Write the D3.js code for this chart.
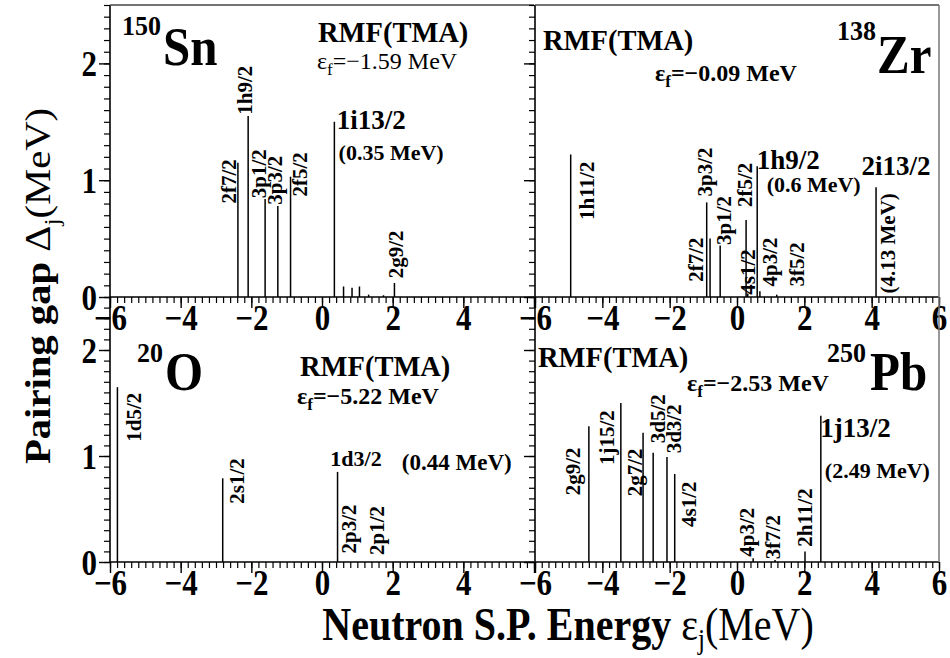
<!DOCTYPE html>
<html>
<head>
<meta charset="utf-8">
<script src="https://cdn.jsdelivr.net/npm/d3@7"></script>
<style>
  body { margin: 0; background: #fff; }
  svg text { font-family: "Liberation Serif", Tinos, "Times New Roman", Times, serif; fill: #000; }
</style>
</head>
<body>
<svg id="chart" width="950" height="658"></svg>
<script>
// ---- Neutron single-particle levels near the Fermi surface (RMF, TMA force) ----
// energies are εj in MeV, gaps are Δj in MeV
const sn150Names  = ["2f7/2", "1h9/2", "3p1/2", "3p3/2", "2f5/2", "1i13/2", "", "", "", "", "", "2g9/2"];
const sn150Energy = [-2.38, -2.09, -1.61, -1.25, -0.89, 0.35, 0.61, 0.85, 1.06, 1.32, 1.74, 2.05];
const sn150Gap    = [1.15, 1.55, 0.84, 0.78, 1.03, 1.50, 0.09, 0.08, 0.09, 0.02, 0.015, 0.12];
const sn150Fermi  = -1.59;

const zr138Names  = ["1h11/2", "3p3/2", "2f7/2", "3p1/2", "2f5/2", "4s1/2", "1h9/2", "4p3/2", "3f5/2", "2i13/2"];
const zr138Energy = [-4.94, -0.90, -0.80, -0.50, 0.27, 0.32, 0.60, 0.68, 1.18, 4.13];
const zr138Gap    = [1.22, 0.81, 0.50, 0.44, 0.66, 0.03, 1.12, 0.05, 0.02, 0.94];
const zr138Fermi  = -0.09;

const o20Names  = ["1d5/2", "2s1/2", "1d3/2", "2p3/2", "2p1/2"];
const o20Energy = [-5.79, -2.81, 0.44, 0.75, 1.45];
const o20Gap    = [1.65, 0.79, 0.85, 0.0, 0.0];
const o20Fermi  = -5.22;

const pb250Names  = ["2g9/2", "1j15/2", "2g7/2", "3d5/2", "3d3/2", "4s1/2", "4p3/2", "3f7/2", "2h11/2", "1j13/2"];
const pb250Energy = [-4.40, -3.45, -2.79, -2.49, -2.08, -1.85, 0.48, 1.13, 2.02, 2.49];
const pb250Gap    = [1.28, 1.50, 1.22, 1.03, 0.99, 0.83, 0.035, 0.02, 0.10, 1.38];
const pb250Fermi  = -2.53;

// axis ticks
const xTickLabels = [-6, -4, -2, 0, 2, 4, 6];
const yTickLabels = [0, 1, 2];
const xDomain = [-6, 6];
const yDomain = [0, 2.5];

// tall-glyph factor used for numbers, titles and nucleus names
const TALL = 1.15;

// ---- panel geometry and annotation layout ----
// level-name spots: [name, energy at label centre, gap where the vertical text starts]
const panels = [
  {
    mass: "150", symbol: "Sn", names: sn150Names, energy: sn150Energy, gap: sn150Gap, fermi: sn150Fermi,
    left: 110, right: 534, top: 5, bottom: 297, col: 0, row: 0, fermiBold: false,
    isoSup: [12, 30], isoMain: [53, 60], rmf: [208, 37], ef: [207, 64],
    vLabels: [["2f7/2", -2.64, 0.80], ["1h9/2", -2.17, 1.56], ["3p1/2", -1.77, 0.845],
              ["3p3/2", -1.32, 0.79], ["2f5/2", -0.61, 0.86], ["2g9/2", 2.10, 0.16]],
    hLabels: [["1i13/2", 0.42, 1.44, 27], ["(0.35 MeV)", 0.47, 1.17, 22]]
  },
  {
    mass: "138", symbol: "Zr", names: zr138Names, energy: zr138Energy, gap: zr138Gap, fermi: zr138Fermi,
    left: 535, right: 939, top: 5, bottom: 297, col: 1, row: 0, fermiBold: true,
    isoSup: [302, 35], isoMain: [342, 68], rmf: [8, 45], ef: [120, 76],
    vLabels: [["1h11/2", -4.46, 0.66], ["3p3/2", -0.95, 0.86], ["2f7/2", -1.23, 0.13],
              ["3p1/2", -0.38, 0.445], ["2f5/2", 0.24, 0.77], ["4s1/2", 0.34, 0.02],
              ["4p3/2", 0.98, 0.09], ["3f5/2", 1.77, 0.09], ["(4.13 MeV)", 4.49, 0.03]],
    hLabels: [["1h9/2", 0.585, 1.10, 27], ["(0.6 MeV)", 0.88, 0.90, 22], ["2i13/2", 3.70, 1.045, 27]]
  },
  {
    mass: "20", symbol: "O", names: o20Names, energy: o20Energy, gap: o20Gap, fermi: o20Fermi,
    left: 110, right: 534, top: 297, bottom: 562, col: 0, row: 1, fermiBold: true,
    isoSup: [27, 65], isoMain: [55, 93], rmf: [190, 79], ef: [187, 107],
    vLabels: [["1d5/2", -5.33, 1.135], ["2s1/2", -2.41, 0.55], ["2p3/2", 0.75, 0.08], ["2p1/2", 1.56, 0.066]],
    hLabels: [["1d3/2", 0.235, 0.91, 22], ["(0.44 MeV)", 2.26, 0.87, 23]]
  },
  {
    mass: "250", symbol: "Pb", names: pb250Names, energy: pb250Energy, gap: pb250Gap, fermi: pb250Fermi,
    left: 535, right: 939, top: 297, bottom: 562, col: 1, row: 1, fermiBold: true,
    isoSup: [292, 65], isoMain: [335, 93], rmf: [3, 70], ef: [152, 94],
    vLabels: [["2g9/2", -4.86, 0.63], ["1j15/2", -3.87, 0.915], ["2g7/2", -3.03, 0.62],
              ["3d5/2", -2.34, 1.12], ["3d3/2", -1.87, 1.025], ["4s1/2", -1.42, 0.33],
              ["4p3/2", 0.29, 0.05], ["3f7/2", 1.08, 0.025], ["2h11/2", 2.02, 0.145]],
    hLabels: [["1j13/2", 2.47, 1.18, 27], ["(2.49 MeV)", 2.61, 0.79, 22]]
  }
];

const svg = d3.select("#chart");
const fmtMinus = d => String(d).replace("-", "\u2212");

panels.forEach(p => {
  const x = d3.scaleLinear().domain(xDomain).range([p.left, p.right]);
  const y = d3.scaleLinear().domain(yDomain).range([p.bottom, p.top]);
  const g = svg.append("g");

  // minor and major x ticks (pointing down)
  const xMinor = d3.range(-6, 6.001, 0.2).map(v => +v.toFixed(2));
  g.append("g").attr("transform", `translate(0,${p.bottom})`)
    .call(d3.axisBottom(x).tickValues(xMinor).tickSize(6).tickSizeOuter(0).tickFormat(""))
    .call(s => s.select(".domain").remove())
    .call(s => s.selectAll("line").attr("stroke", "#000").attr("stroke-width", 1.2));
  const xLabVals = p.col === 0 ? xTickLabels.slice(0, -1) : xTickLabels;
  g.append("g").attr("transform", `translate(0,${p.bottom})`)
    .call(d3.axisBottom(x).tickValues(xTickLabels).tickSize(11).tickSizeOuter(0)
      .tickFormat(d => xLabVals.includes(d) ? fmtMinus(d) : ""))
    .call(s => s.select(".domain").remove())
    .call(s => s.selectAll("line").attr("stroke", "#000").attr("stroke-width", 1.4))
    .call(s => s.selectAll("text").attr("y", 0).attr("dy", 0)
      .attr("transform", `translate(0,33) scale(1,${TALL})`)
      .attr("font-size", 31).attr("font-weight", "bold").attr("fill", "#000"));

  // y ticks (pointing left), labels only on the left column
  const yMinor = d3.range(0, 2.5001, 0.1).map(v => +v.toFixed(2));
  g.append("g").attr("transform", `translate(${p.left},0)`)
    .call(d3.axisLeft(y).tickValues(yMinor).tickSize(6).tickSizeOuter(0).tickFormat(""))
    .call(s => s.select(".domain").remove())
    .call(s => s.selectAll("line").attr("stroke", "#000").attr("stroke-width", 1.2));
  g.append("g").attr("transform", `translate(${p.left},0)`)
    .call(d3.axisLeft(y).tickValues(yTickLabels).tickSize(11).tickSizeOuter(0)
      .tickFormat(d => p.col === 0 ? String(d) : ""))
    .call(s => s.select(".domain").remove())
    .call(s => s.selectAll("line").attr("stroke", "#000").attr("stroke-width", 1.4))
    .call(s => s.selectAll("text").attr("x", 0).attr("dy", "0.35em")
      .attr("transform", `translate(-13,0) scale(1,${TALL})`)
      .attr("font-size", 31).attr("font-weight", "bold").attr("fill", "#000"));

  // frame
  g.append("line").attr("x1", p.left).attr("x2", p.right).attr("y1", p.bottom).attr("y2", p.bottom)
    .attr("stroke", "#000").attr("stroke-width", 1.6);
  g.append("line").attr("x1", p.left).attr("x2", p.left).attr("y1", p.top).attr("y2", p.bottom)
    .attr("stroke", "#000").attr("stroke-width", 1.6);
  if (p.row === 0) {
    g.append("line").attr("x1", p.left).attr("x2", p.right).attr("y1", p.top).attr("y2", p.top)
      .attr("stroke", "#444").attr("stroke-width", 1.3);
  }
  if (p.col === 1) {
    g.append("line").attr("x1", p.right).attr("x2", p.right).attr("y1", p.top).attr("y2", p.bottom)
      .attr("stroke", "#777").attr("stroke-width", 1.5);
  }

  // level bars
  g.selectAll("line.bar").data(p.energy.map((e, i) => ({ e, v: p.gap[i], n: p.names[i] })))
    .join("line").attr("class", "bar")
    .attr("x1", d => x(d.e)).attr("x2", d => x(d.e))
    .attr("y1", y(0)).attr("y2", d => y(d.v))
    .attr("stroke", "#000").attr("stroke-width", 1.5);

  // vertical level names
  g.selectAll("text.vlab").data(p.vLabels).join("text").attr("class", "vlab")
    .attr("transform", d => `translate(${x(d[1])},${y(d[2])}) rotate(-90)`)
    .attr("dominant-baseline", "central")
    .attr("font-size", 21).attr("font-weight", "bold")
    .text(d => d[0]);

  // horizontal level names and energies
  g.selectAll("text.hlab").data(p.hLabels).join("text").attr("class", "hlab")
    .attr("x", d => x(d[1])).attr("y", d => y(d[2]))
    .attr("font-size", d => d[3]).attr("font-weight", "bold")
    .text(d => d[0]);

  // nucleus name
  g.append("text")
    .attr("transform", `translate(${p.left + p.isoSup[0]},${p.top + p.isoSup[1]}) scale(1,1.08)`)
    .attr("font-size", 26).attr("font-weight", "bold").text(p.mass);
  g.append("text")
    .attr("transform", `translate(${p.left + p.isoMain[0]},${p.top + p.isoMain[1]}) scale(1,1.1)`)
    .attr("font-size", 49).attr("font-weight", "bold").text(p.symbol);

  // model name and Fermi energy
  g.append("text").attr("x", p.left + p.rmf[0]).attr("y", p.top + p.rmf[1])
    .attr("font-size", 28.5).attr("font-weight", "bold").text("RMF(TMA)");
  const ef = g.append("text").attr("x", p.left + p.ef[0]).attr("y", p.top + p.ef[1])
    .attr("font-size", 24).attr("font-weight", p.fermiBold ? "bold" : "normal");
  ef.append("tspan").text("\u03b5");
  ef.append("tspan").attr("dy", 6).attr("font-size", 17).text("f");
  ef.append("tspan").attr("dy", -6).text("=" + fmtMinus(p.fermi.toFixed(2)) + " MeV");
});

// axis titles
const xt = svg.append("text")
  .attr("transform", `translate(568,640) scale(1,${TALL})`)
  .attr("text-anchor", "middle").attr("font-size", 40);
xt.append("tspan").attr("font-weight", "bold").text("Neutron S.P. Energy ");
xt.append("tspan").text("\u03b5");
xt.append("tspan").attr("dy", 8).attr("font-size", 25).text("j");
xt.append("tspan").attr("dy", -8).text("(MeV)");

const yt = svg.append("text").attr("transform", "translate(50,286) rotate(-90) scale(1.13,1)")
  .attr("text-anchor", "middle").attr("font-size", 36);
yt.append("tspan").attr("font-weight", "bold").text("Pairing gap ");
yt.append("tspan").text("\u0394");
yt.append("tspan").attr("dy", 9).attr("font-size", 22).text("j");
yt.append("tspan").attr("dy", -9).text("(MeV)");
</script>
</body>
</html>
